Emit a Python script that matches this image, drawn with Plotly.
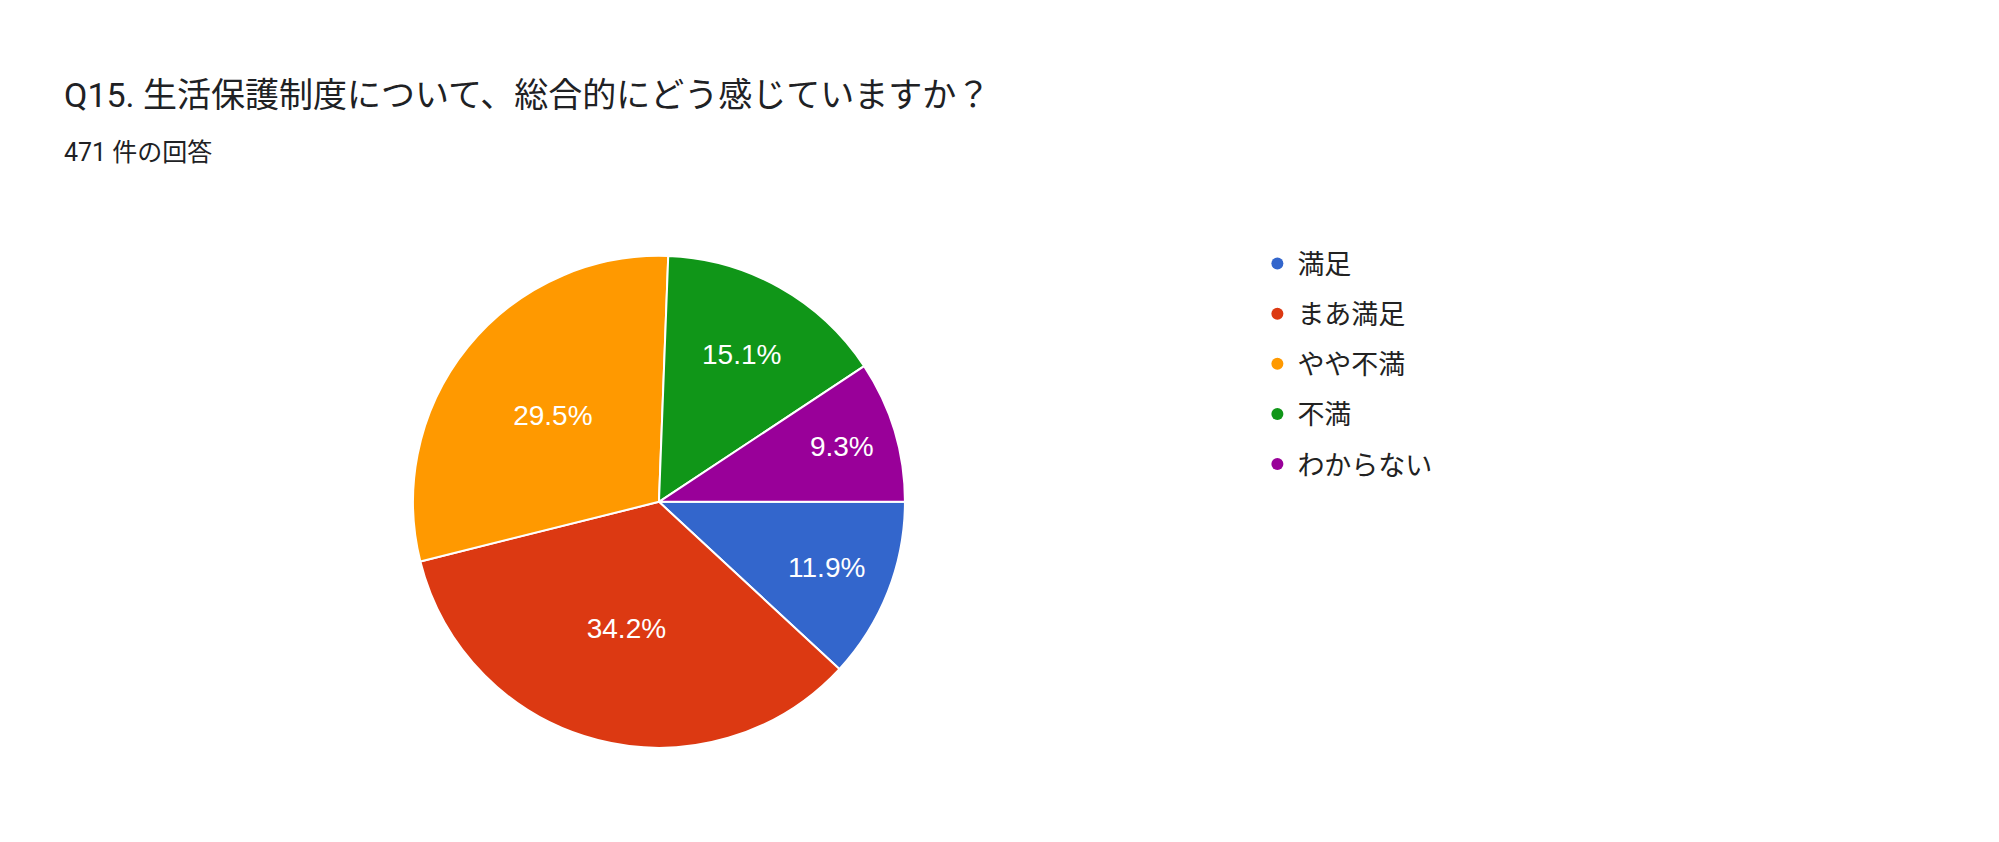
import plotly.graph_objects as go

labels = ["満足", "まあ満足", "やや不満", "不満", "わからない"]
values = [11.9, 34.2, 29.5, 15.1, 9.3]
colors = ["#3366CC", "#DC3912", "#FF9900", "#109618", "#990099"]

fig = go.Figure(go.Pie(
    labels=labels, values=values, sort=False, direction="clockwise", rotation=90,
    marker=dict(colors=colors, line=dict(color="white", width=2)),
    texttemplate="%{value:.1f}%", textposition="inside", insidetextorientation="horizontal",
    textfont=dict(color="white", size=28, family="Arial, Liberation Sans"),
    domain=dict(x=[0.2026, 0.4487], y=[0.121, 0.706]),
    hoverinfo="label+percent", showlegend=False,
))
for i, (lab, col) in enumerate(zip(labels, colors)):
    fig.add_trace(go.Scatter(x=[None], y=[None], mode="markers", name=lab,
                             legendgroup=f"g{i}",
                             marker=dict(color=col, size=28, symbol="circle")))
fig.update_xaxes(visible=False)
fig.update_yaxes(visible=False)
fig.update_layout(
    width=1999, height=842, paper_bgcolor="white", plot_bgcolor="white",
    margin=dict(l=0, r=0, t=0, b=0),
    font=dict(family="Roboto, 'Noto Sans CJK JP', Arial", color="#212121"),
    legend=dict(x=0.625, y=0.725, xanchor="left", yanchor="top",
                font=dict(size=27, color="#222"), itemsizing="constant", tracegroupgap=12),
    annotations=[
        dict(text="Q15. 生活保護制度について、総合的にどう感じていますか？", x=54/1999, y=1-87/842,
             xref="paper", yref="paper", xanchor="left", yanchor="middle", showarrow=False,
             font=dict(size=34, color="#202124")),
        dict(text="471 件の回答", x=54/1999, y=1-144/842,
             xref="paper", yref="paper", xanchor="left", yanchor="middle", showarrow=False,
             font=dict(size=25, color="#202124")),
    ],
)
fig.write_html("out.html")
